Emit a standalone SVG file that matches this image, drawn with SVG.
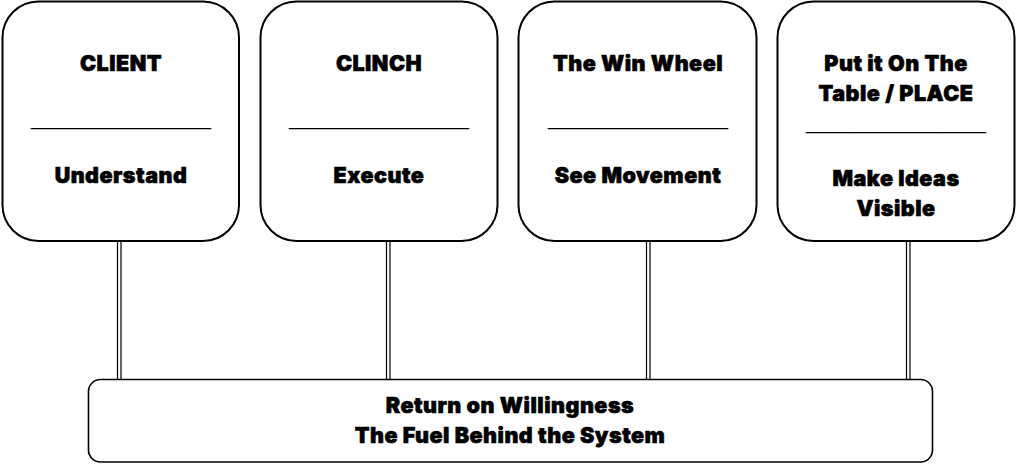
<svg xmlns="http://www.w3.org/2000/svg" width="1016" height="466" viewBox="0 0 1016 466">
<style>
.box{fill:#fff;stroke:#000;stroke-width:2}
.base{fill:#fff;stroke:#000;stroke-width:1.6}
.t{font-family:Inter,"Liberation Sans",sans-serif;font-weight:900;font-size:21.5px;letter-spacing:0.5px;fill:#000;stroke:#000;stroke-width:0.6;text-anchor:middle}
.u{font-family:"Liberation Sans",Arial,sans-serif;font-size:20px;fill:#000;text-anchor:middle}
.c{stroke:#000;stroke-width:1.2;fill:none}
</style>
<rect width="1016" height="466" fill="#fff"/>
<g id="connectors">
<line class="c" x1="117.5" y1="241" x2="117.5" y2="379"/><line class="c" x1="121" y1="241" x2="121" y2="379"/>
<line class="c" x1="386.5" y1="241" x2="386.5" y2="379"/><line class="c" x1="390" y1="241" x2="390" y2="379"/>
<line class="c" x1="646.5" y1="241" x2="646.5" y2="379"/><line class="c" x1="650" y1="241" x2="650" y2="379"/>
<line class="c" x1="906.5" y1="241" x2="906.5" y2="379"/><line class="c" x1="910" y1="241" x2="910" y2="379"/>
</g>
<g id="client">
<rect class="box" x="2.5" y="1.5" width="236.5" height="239.5" rx="36"/>
<text class="t" x="121" y="71">CLIENT</text>
<text class="u" x="121" y="125" textLength="180" lengthAdjust="spacingAndGlyphs">________________</text>
<text class="t" x="121" y="183">Understand</text>
</g>
<g id="clinch">
<rect class="box" x="260.5" y="1.5" width="237" height="239.5" rx="36"/>
<text class="t" x="379" y="71">CLINCH</text>
<text class="u" x="379" y="125" textLength="180" lengthAdjust="spacingAndGlyphs">________________</text>
<text class="t" x="379" y="183">Execute</text>
</g>
<g id="winwheel">
<rect class="box" x="518.5" y="1.5" width="238" height="239.5" rx="36"/>
<text class="t" x="638" y="71">The Win Wheel</text>
<text class="u" x="638" y="125" textLength="180" lengthAdjust="spacingAndGlyphs">________________</text>
<text class="t" x="638" y="183">See Movement</text>
</g>
<g id="place">
<rect class="box" x="777.5" y="1.5" width="237" height="239.5" rx="36"/>
<text class="t" x="896" y="71">Put it On The</text>
<text class="t" x="896" y="101">Table / PLACE</text>
<text class="u" x="896" y="128.5" textLength="180" lengthAdjust="spacingAndGlyphs">________________</text>
<text class="t" x="896" y="186">Make Ideas</text>
<text class="t" x="896" y="216">Visible</text>
</g>
<g id="willingness">
<rect class="base" x="88.5" y="379.5" width="844" height="82.5" rx="12"/>
<text class="t" x="510" y="413">Return on Willingness</text>
<text class="t" x="510" y="443">The Fuel Behind the System</text>
</g>
</svg>
